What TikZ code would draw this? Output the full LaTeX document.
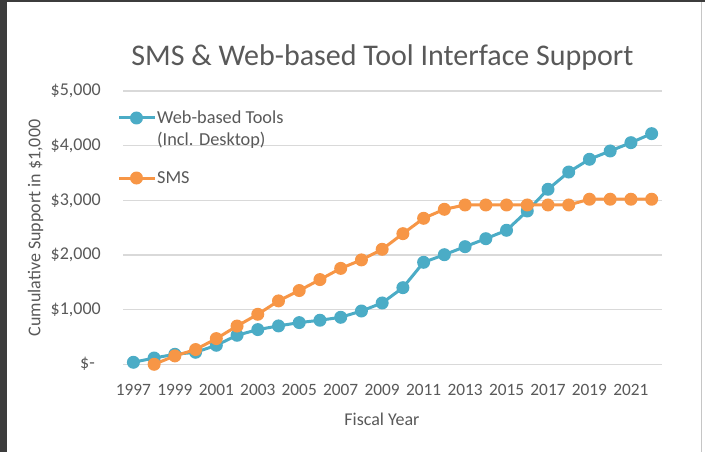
\documentclass[tikz,border=0pt]{standalone}
\usepackage{fontspec}
\setmainfont{Carlito}
\definecolor{webc}{HTML}{4BACC6}
\definecolor{smsc}{HTML}{F79646}
\definecolor{txt}{HTML}{595959}
\definecolor{grid}{HTML}{D9D9D9}
\definecolor{frame}{HTML}{3C3C3C}
\tikzset{
  gridline/.style={draw=grid, line width=1.3pt},
  webline/.style={draw=webc, line width=3pt, line join=round},
  smsline/.style={draw=smsc, line width=3pt, line join=round},
  ticklab/.style={text=txt, font=\fontsize{18}{21}\selectfont, inner sep=0pt},
  yearlab/.style={text=txt, font=\fontsize{17.3}{20}\selectfont, inner sep=0pt},
  leglab/.style={text=txt, font=\fontsize{18.3}{22}\selectfont, inner sep=0pt, anchor=base west},
  axtitle/.style={text=txt, font=\fontsize{18}{21}\selectfont, inner sep=0pt},
}
\begin{document}
\begin{tikzpicture}[x=1pt,y=-1pt]
\useasboundingbox (0,0) rectangle (705,452);
\fill[white] (0,0) rectangle (705,452);
% frame
\fill[frame] (0,0) rectangle (7,452);
\fill[frame] (0,0) rectangle (705,2.5);
\draw[draw=gray!45, line width=1pt] (701.5,2.5) -- (701.5,452);
% title
\node[text=txt, font=\fontsize{30}{34}\selectfont, inner sep=0pt, anchor=base] (title) at (382.5,66) {SMS \& Web-based Tool Interface Support};
% gridlines and y labels
\foreach \v/\lab in {1000/{\$1,000},2000/{\$2,000},3000/{\$3,000},4000/{\$4,000},5000/{\$5,000}}{
  \draw[gridline] (123,{364.3-0.05465*\v}) -- (662,{364.3-0.05465*\v});
  \node[ticklab, anchor=east] (y\v) at (101,{364.3-0.05465*\v}) {\lab};
}
\draw[gridline] (123,364.3) -- (662,364.3);
\node[ticklab, anchor=east] (y0) at (95,364.3) {\$-};
% year labels
\foreach \yr in {1997,1999,...,2021}{
  \node[yearlab, anchor=base] (x\yr) at ({133.4+20.73*(\yr-1997)},395.5) {\yr};
}
% axis titles
\node[axtitle, anchor=base] (xt) at (382,425) {Fiscal Year};
\node[axtitle, rotate=90] (yt) at (35.5,228) {Cumulative Support in \$1,000};
% web-based series
\draw[webline] (133.4,{364.3-0.05465*37})
  \foreach \v [count=\i from 0] in {37,115,183,220,348,531,635,702,763,806,860,975,1122,1402,1866,2005,2152,2298,2452,2805,3202,3518,3751,3903,4055,4220}{ -- ({133.4+20.73*\i},{364.3-0.05465*\v}) };
\foreach \v [count=\i from 0] in {37,115,183,220,348,531,635,702,763,806,860,975,1122,1402,1866,2005,2152,2298,2452,2805,3202,3518,3751,3903,4055,4220}{
  \fill[webc] ({133.4+20.73*\i},{364.3-0.05465*\v}) circle (6.5);
}
% SMS series
\draw[smsline] (154.1,364.3)
  \foreach \v [count=\i from 1] in {0,154,270,470,700,915,1160,1350,1550,1755,1910,2104,2390,2671,2836,2915,2915,2915,2915,2915,2915,3020,3020,3020,3020}{ -- ({133.4+20.73*\i},{364.3-0.05465*\v}) };
\foreach \v [count=\i from 1] in {0,154,270,470,700,915,1160,1350,1550,1755,1910,2104,2390,2671,2836,2915,2915,2915,2915,2915,2915,3020,3020,3020,3020}{
  \fill[smsc] ({133.4+20.73*\i},{364.3-0.05465*\v}) circle (6.5);
}
% legend
\coordinate (lw1) at (119,118);
\coordinate (lw2) at (155,118);
\draw[webline] (lw1) -- (lw2);
\fill[webc] (136.5,118) circle (6.5);
\node[leglab] (lweb) at (157,123.5) {Web-based Tools};
\node[leglab] (lweb2) at (157,145.5) {(Incl. Desktop)};
\coordinate (ls1) at (119,178);
\coordinate (ls2) at (155,178);
\draw[smsline] (ls1) -- (ls2);
\fill[smsc] (136.5,178) circle (6.5);
\node[leglab] (lsms) at (157,183.5) {SMS};
\end{tikzpicture}
\end{document}
